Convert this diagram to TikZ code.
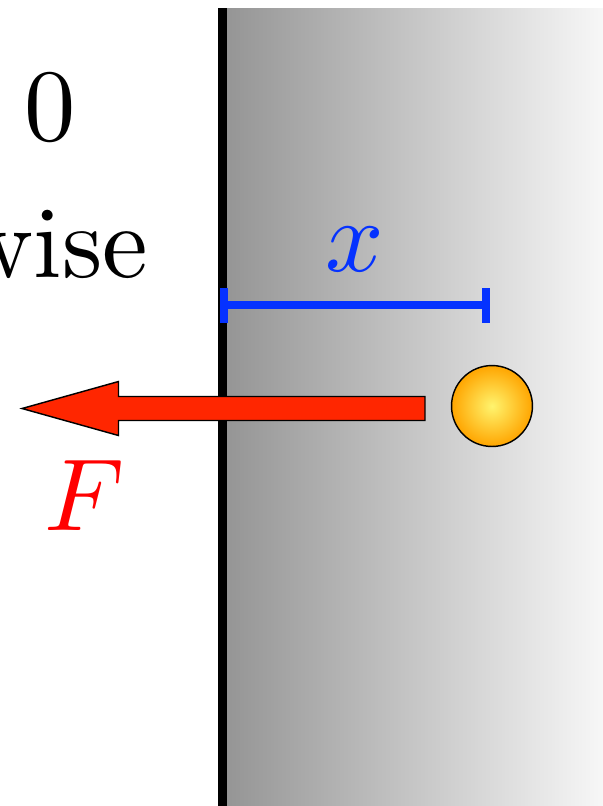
\documentclass[tikz,border=0pt]{standalone}
\definecolor{wallL}{RGB}{148,148,148}
\definecolor{wallR}{RGB}{247,247,247}
\definecolor{dimblue}{RGB}{5,50,255}
\definecolor{arrowred}{RGB}{255,38,0}
\definecolor{ballin}{RGB}{255,244,110}
\definecolor{ballout}{RGB}{255,165,0}
\begin{document}
\begin{tikzpicture}[x=0.0976pt,y=-0.0976pt,
  lbl/.style={inner sep=0pt,font=\normalsize},
  wallline/.style={line width=0.85pt,black},
  dimline/.style={line width=0.78pt,dimblue},
  forcearrow/.style={fill=arrowred,draw=black,line width=0.14pt,line join=miter},
  ballstyle/.style={circle,draw=black,line width=0.14pt,inner color=ballin,outer color=ballout,minimum size=7.9pt,inner sep=0pt}]
\useasboundingbox (0,0) rectangle (603,806);
% wall
\shade[left color=wallL,right color=wallR] (222,8) rectangle (603,806);
\coordinate (wtop) at (222.3,8);
\coordinate (wbot) at (222.3,806);
\draw[wallline] (wtop) -- (wbot);
% texts
\node[lbl,anchor=base] (zero) at (50.5,140) {$0$};
\node[lbl,anchor=base east] (wise) at (150,277) {wise};
% dimension x
\coordinate (dl) at (224,305);
\coordinate (dr) at (486.5,305);
\draw[dimline] (dl) -- (dr);
\draw[dimline] ([yshift=-17.5*0.0976pt]dl) -- ([yshift=17.5*0.0976pt]dl);
\draw[dimline] ([yshift=-17.5*0.0976pt]dr) -- ([yshift=17.5*0.0976pt]dr);
\node[lbl,anchor=base,text=dimblue] (xl) at (355,271) {$x$};
% ball
\node[ballstyle] (ball) at (492,406) {};
% force arrow
\draw[forcearrow] (425,396.5) -- (118.5,396.5) -- (118.5,381.5) -- (22,408.5) -- (118.5,435.5) -- (118.5,420.5) -- (425,420.5) -- cycle;
\node[lbl,anchor=base,text=red] (Fl) at (85,530) {$F$};
\end{tikzpicture}
\end{document}
